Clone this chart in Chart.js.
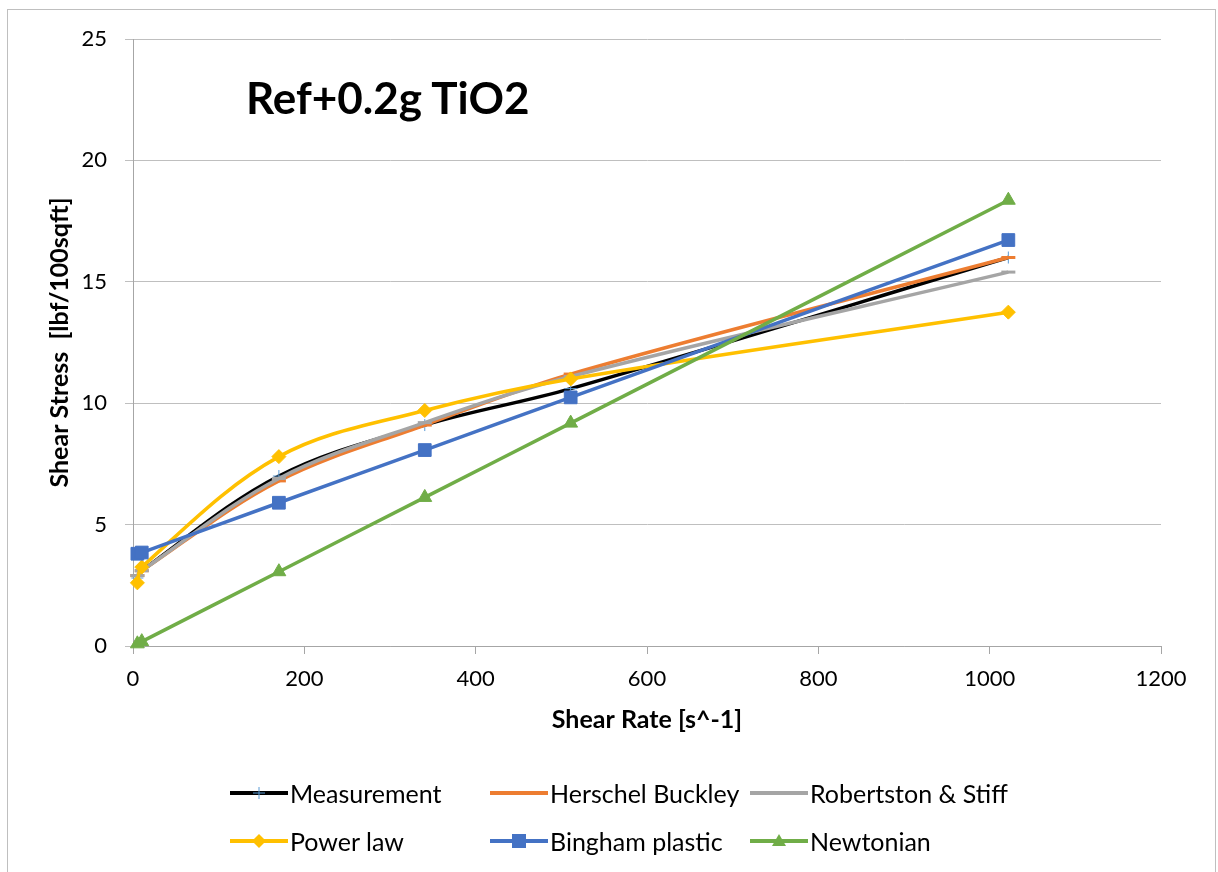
<!DOCTYPE html>
<html>
<head>
<meta charset="utf-8">
<script src="https://cdn.jsdelivr.net/npm/chart.js@4.4.1/dist/chart.umd.min.js"></script>
<style>
    body { margin: 0; background: #ffffff; }
    #wrap { position: relative; width: 1218px; height: 872px; overflow: hidden; font-family: Lato, 'Noto Sans', sans-serif; }
    #chart { position: absolute; left: 0; top: 0; }
    #frame { position: absolute; left: 7px; top: 9px; width: 1207px; height: 880px; border: 1px solid #bfbfbf; pointer-events: none; }
    #title { position: absolute; left: 246px; top: 75px; font-size: 44px; line-height: 44px; font-weight: bold; color: #000; white-space: nowrap; }
    .legend-item { position: absolute; height: 30px; line-height: 30px; font-size: 25px; color: #000; white-space: nowrap; display: flex; align-items: center; }
    .legend-item svg { display: block; margin-right: 2px; }
</style>
</head>
<body>
<div id="wrap">
    <canvas id="chart" width="1218" height="872"></canvas>
    <div id="frame"></div>
    <div id="title">Ref+0.2g TiO2</div>
    <div id="legend"></div>
</div>
<script>
// 剪切速率 (s^-1) 与各模型的剪切应力 (lbf/100sqft)
const shearRate = [5.11, 10.22, 170.3, 340.6, 510.9, 1021.8];
const measurement = [2.8, 3.1, 7.0, 9.1, 10.6, 16.0];
const herschelBuckley = [2.9, 3.1, 6.8, 9.1, 11.2, 16.0];
const robertsonStiff = [2.9, 3.1, 6.9, 9.2, 11.1, 15.4];
const powerLaw = [2.6, 3.25, 7.8, 9.7, 11.0, 13.75];
const binghamPlastic = [3.8, 3.85, 5.9, 8.07, 10.24, 16.72];
const newtonian = [0.09, 0.18, 3.06, 6.12, 9.18, 18.36];

const seriesNames = ['Measurement', 'Herschel Buckley', 'Robertston & Stiff', 'Power law', 'Bingham plastic', 'Newtonian'];
const seriesValues = [measurement, herschelBuckley, robertsonStiff, powerLaw, binghamPlastic, newtonian];
const seriesColors = ['#000000', '#ed7d31', '#a5a5a5', '#ffc000', '#4472c4', '#70ad47'];

const yTicks = [0, 5, 10, 15, 20, 25];
const xTicks = [0, 200, 400, 600, 800, 1000, 1200];

// 每条曲线的标记样式
const markers = [
    { style: 'cross', radius: 6, color: '#5b9bd5', width: 1 },
    { style: 'line', radius: 7, color: '#ed7d31', width: 3 },
    { style: 'line', radius: 7, color: '#a5a5a5', width: 3 },
    { style: 'rectRot', radius: 7, color: '#ffc000', width: 1 },
    { style: 'rect', radius: 9, color: '#4472c4', width: 1 },
    { style: 'triangle', radius: 8, color: '#70ad47', width: 1 }
];

const tickFont = { family: 'Lato, "Noto Sans", sans-serif', size: 22 };
const titleFont = { family: 'Lato, "Noto Sans", sans-serif', size: 25, weight: 'bold' };

const datasets = seriesNames.map((name, i) => ({
    label: name,
    data: shearRate.map((x, j) => ({ x: x, y: seriesValues[i][j] })),
    borderColor: seriesColors[i],
    backgroundColor: markers[i].color,
    borderWidth: 3.5,
    tension: 0.35,
    pointStyle: markers[i].style,
    pointRadius: markers[i].radius,
    pointBorderColor: markers[i].color,
    pointBackgroundColor: markers[i].color,
    pointBorderWidth: markers[i].width,
    clip: false,
    order: seriesNames.length - i   // 后面的系列画在上层
}));

new Chart(document.getElementById('chart'), {
    type: 'line',
    data: { datasets: datasets },
    options: {
        responsive: false,
        animation: false,
        devicePixelRatio: 1,
        layout: { padding: { left: 0, top: 39, right: 57, bottom: 126 } },
        plugins: {
            legend: { display: false },
            tooltip: { enabled: false }
        },
        scales: {
            x: {
                type: 'linear',
                min: 0,
                max: 1200,
                afterBuildTicks: scale => { scale.ticks = xTicks.map(v => ({ value: v })); },
                afterFit: scale => { scale.height = 100; },
                ticks: { font: tickFont, color: '#000', padding: 12, maxRotation: 0, callback: v => String(v) },
                grid: { drawOnChartArea: false, drawTicks: true, tickLength: 8, color: '#a6a6a6' },
                border: { color: '#a6a6a6', width: 1 },
                title: { display: true, text: 'Shear Rate [s^-1]', font: titleFont, color: '#000', padding: { top: 0, bottom: 11 } }
            },
            y: {
                type: 'linear',
                min: 0,
                max: 25,
                afterBuildTicks: scale => { scale.ticks = yTicks.map(v => ({ value: v })); },
                afterFit: scale => { scale.width = 133; },
                ticks: { font: tickFont, color: '#000', padding: 18, callback: v => String(v) },
                grid: { color: '#bfbfbf', tickLength: 8 },
                border: { color: '#a6a6a6', width: 1 },
                title: { display: true, text: 'Shear Stress  [lbf/100sqft]', font: titleFont, color: '#000', padding: { top: 45, bottom: 0 } }
            }
        }
    }
});

// 图例：三列两行
function legendSymbol(i) {
    const c = seriesColors[i];
    const m = markers[i];
    let mark = '';
    if (m.style === 'cross') {
        mark = `<line x1="29" y1="6" x2="29" y2="18" stroke="${m.color}" stroke-width="1"/>` +
               `<line x1="23" y1="12" x2="35" y2="12" stroke="${m.color}" stroke-width="1"/>`;
    } else if (m.style === 'rectRot') {
        mark = `<polygon points="29,5 36,12 29,19 22,12" fill="${m.color}"/>`;
    } else if (m.style === 'rect') {
        mark = `<rect x="22" y="5" width="14" height="14" fill="${m.color}"/>`;
    } else if (m.style === 'triangle') {
        mark = `<polygon points="29,5 36,17 22,17" fill="${m.color}"/>`;
    }
    return `<svg width="58" height="24"><line x1="0" y1="12" x2="58" y2="12" stroke="${c}" stroke-width="4"/>${mark}</svg>`;
}

const legendCols = [230, 490, 750];
const legendRows = [778, 826];
const legend = document.getElementById('legend');
seriesNames.forEach((name, i) => {
    const item = document.createElement('div');
    item.className = 'legend-item';
    item.style.left = legendCols[i % 3] + 'px';
    item.style.top = legendRows[Math.floor(i / 3)] + 'px';
    item.innerHTML = legendSymbol(i) + '<span></span>';
    item.querySelector('span').textContent = name;
    legend.appendChild(item);
});
</script>
</body>
</html>
